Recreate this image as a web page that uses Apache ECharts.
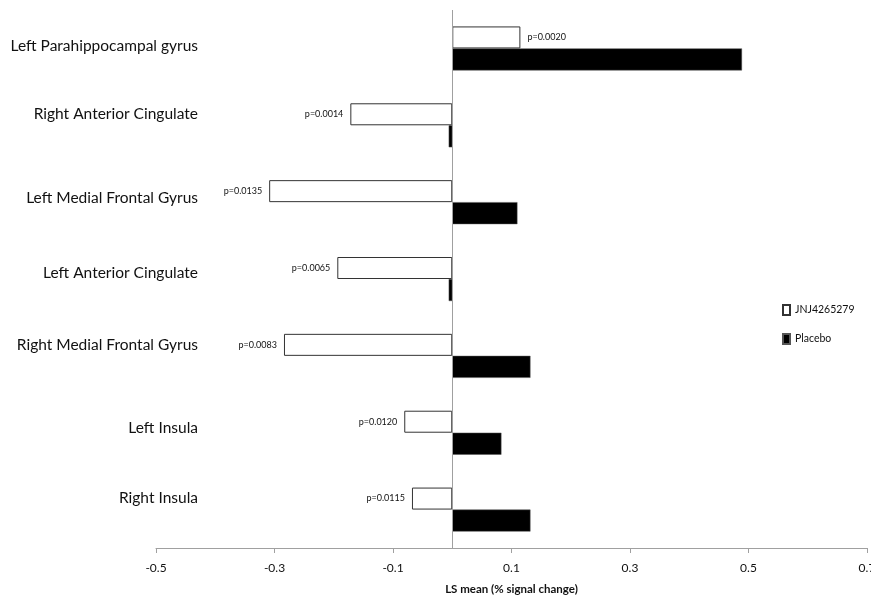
<!DOCTYPE html>
<html><head><meta charset="utf-8">
<script src="https://cdn.jsdelivr.net/npm/echarts@6/dist/echarts.min.js"></script>
<style>html,body{margin:0;padding:0;background:#fff}#c{width:871px;height:600px}</style>
</head><body><div id="c"></div>
<script>
const categories = ['Left Parahippocampal gyrus','Right Anterior Cingulate','Left Medial Frontal Gyrus','Left Anterior Cingulate','Right Medial Frontal Gyrus','Left Insula','Right Insula'];
const jnjValues = [0.115, -0.172, -0.309, -0.194, -0.284, -0.081, -0.068];
const placeboValues = [0.489, -0.006, 0.110, -0.006, 0.132, 0.083, 0.132];
const pValues = ['p=0.0020','p=0.0014','p=0.0135','p=0.0065','p=0.0083','p=0.0120','p=0.0115'];
const xTicks = [-0.5, -0.3, -0.1, 0.1, 0.3, 0.5, 0.7];
// style: upward shift (px) of each category label, as in the original figure
const labelShift = [2, 11, 4.5, 5.7, 11, 4.5, 12];

const FONT = "Lato, 'Liberation Sans', sans-serif";
const rich = {};
labelShift.forEach((s, i) => {
  rich['r' + i] = {fontSize: 15.5, color: '#111', fontFamily: FONT, padding: [0, 0, 2 * s, 0]};
});
const chart = echarts.init(document.getElementById('c'));
chart.setOption({
  animation: false,
  textStyle: {fontFamily: FONT},
  grid: {left: 156, right: 4, top: 10, bottom: 52, outerBoundsMode: 'none', containLabel: false},
  legend: {
    orient: 'vertical', left: 777, top: 299, itemWidth: 7, itemHeight: 10, itemGap: 17, icon: 'rect',
    textStyle: {fontSize: 10.5, color: '#111', fontFamily: FONT},
    data: ['JNJ4265279', 'Placebo']
  },
  xAxis: {
    type: 'value', min: -0.5, max: 0.7,
    splitLine: {show: false},
    axisLine: {show: true, onZero: false, lineStyle: {color: '#a0a0a0'}},
    axisTick: {show: true, length: 5, customValues: xTicks, lineStyle: {color: '#a0a0a0'}},
    axisLabel: {customValues: xTicks, fontSize: 12, color: '#111', margin: 14, fontFamily: FONT,
      formatter: v => String(Math.round(v*10)/10)},
    name: 'LS mean (% signal change)', nameLocation: 'middle', nameGap: 35,
    nameTextStyle: {fontWeight: 'bold', fontSize: 11.5, color: '#111', fontFamily: FONT}
  },
  yAxis: {
    type: 'category', inverse: true, data: categories,
    axisLine: {show: false, onZero: false}, axisTick: {show: false},
    axisLabel: {margin: -42, fontSize: 15.5, color: '#111', fontFamily: FONT, rich: rich,
      formatter: (v, i) => '{r' + i + '|' + v + '}'}
  },
  series: [
    {
      name: 'JNJ4265279', type: 'bar', barWidth: 22, barGap: '0%',
      itemStyle: {color: '#ffffff', borderColor: '#333', borderWidth: 1},
      data: jnjValues.map((v, i) => ({value: v, label: {show: true, position: v < 0 ? 'left' : 'right', formatter: pValues[i]}})),
      label: {fontSize: 9, color: '#111', distance: 7, fontFamily: FONT},
      markLine: {silent: true, symbol: 'none', label: {show: false},
        lineStyle: {color: '#a0a0a0', type: 'solid', width: 1}, data: [{xAxis: 0}]}
    },
    {
      name: 'Placebo', type: 'bar', barWidth: 22,
      itemStyle: {color: '#000000', borderColor: '#555', borderWidth: 0.5},
      data: placeboValues
    }
  ]
});
</script></body></html>
